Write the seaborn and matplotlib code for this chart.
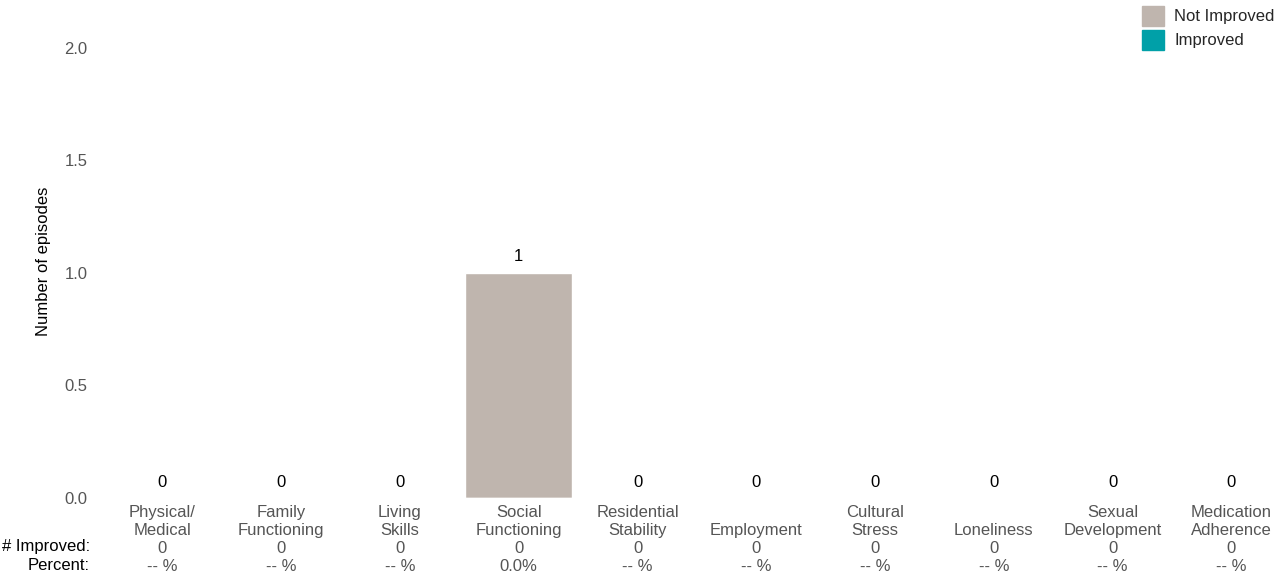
import matplotlib
matplotlib.use("Agg")
import matplotlib.pyplot as plt
import matplotlib.patches as mpatches
import seaborn as sns
import pandas as pd

# === Data ===
categories = ["Physical/\nMedical", "Family\nFunctioning", "Living\nSkills", "Social\nFunctioning",
              "Residential\nStability", "\nEmployment", "Cultural\nStress", "\nLoneliness",
              "Sexual\nDevelopment", "Medication\nAdherence"]
total_episodes = [0, 0, 0, 1, 0, 0, 0, 0, 0, 0]
improved = [0, 0, 0, 0, 0, 0, 0, 0, 0, 0]
percent = ["-- %", "-- %", "-- %", "0.0%", "-- %", "-- %", "-- %", "-- %", "-- %", "-- %"]

NOT_IMPROVED_COLOR = "#BFB5AE"
IMPROVED_COLOR = "#00A0A8"
TEXT_GRAY = "#555555"

df = pd.DataFrame({
    "category": categories,
    "not_improved": [t - i for t, i in zip(total_episodes, improved)],
    "improved": improved,
    "total": total_episodes,
})

# === Style ===
sns.set_theme(style="white")
plt.rcParams["font.family"] = ["Liberation Sans", "DejaVu Sans"]
plt.rcParams["font.size"] = 12

fig = plt.figure(figsize=(12.79, 5.79), dpi=100)
ax = fig.add_axes([103 / 1279, 1 - 498 / 579, 1 - 103 / 1279, (498 - 25) / 579])

# === Stacked bars ===
sns.barplot(data=df, x="category", y="total", color=NOT_IMPROVED_COLOR, width=0.9,
            saturation=1, ax=ax)
sns.barplot(data=df, x="category", y="improved", color=IMPROVED_COLOR, width=0.9,
            saturation=1, ax=ax)

ax.bar_label(ax.containers[0], labels=[str(v) for v in total_episodes],
             padding=6, fontsize=12, color="black")

ax.set_xlim(-0.5, 9.4)
ax.set_ylim(0, 2.1)
ax.set_yticks([0, 0.5, 1.0, 1.5, 2.0])
ax.set_yticklabels(["0.0", "0.5", "1.0", "1.5", "2.0"])

tick_labels = [f"{c}\n{i}\n{p}" for c, i, p in zip(categories, improved, percent)]
ax.set_xticks(range(len(categories)))
ax.set_xticklabels(tick_labels, linespacing=1.24)
ax.tick_params(axis="x", length=0, pad=5, colors=TEXT_GRAY, labelsize=12)
ax.tick_params(axis="y", length=0, pad=11, colors=TEXT_GRAY, labelsize=12)

ax.set_xlabel("")
ax.set_ylabel("Number of episodes", fontsize=12, color="black", labelpad=10)
sns.despine(ax=ax, left=True, bottom=True)

# row labels for the table under the axis
fig.text(90 / 1279, 1 - 547 / 579, "# Improved:", ha="right", va="center", fontsize=12, color="black")
fig.text(90 / 1279, 1 - 565 / 579, "Percent:", ha="right", va="center", fontsize=12, color="black")

# === Legend ===
handles = [mpatches.Patch(color=NOT_IMPROVED_COLOR, label="Not Improved"),
           mpatches.Patch(color=IMPROVED_COLOR, label="Improved")]
fig.legend(handles=handles, loc="upper right", bbox_to_anchor=(1.003, 1.004), frameon=False,
           fontsize=12, handlelength=1.35, handleheight=1.45, handletextpad=0.6,
           labelspacing=0.25, borderaxespad=0.3, borderpad=0.2)

fig.savefig("out.png", dpi=100, facecolor="white")
